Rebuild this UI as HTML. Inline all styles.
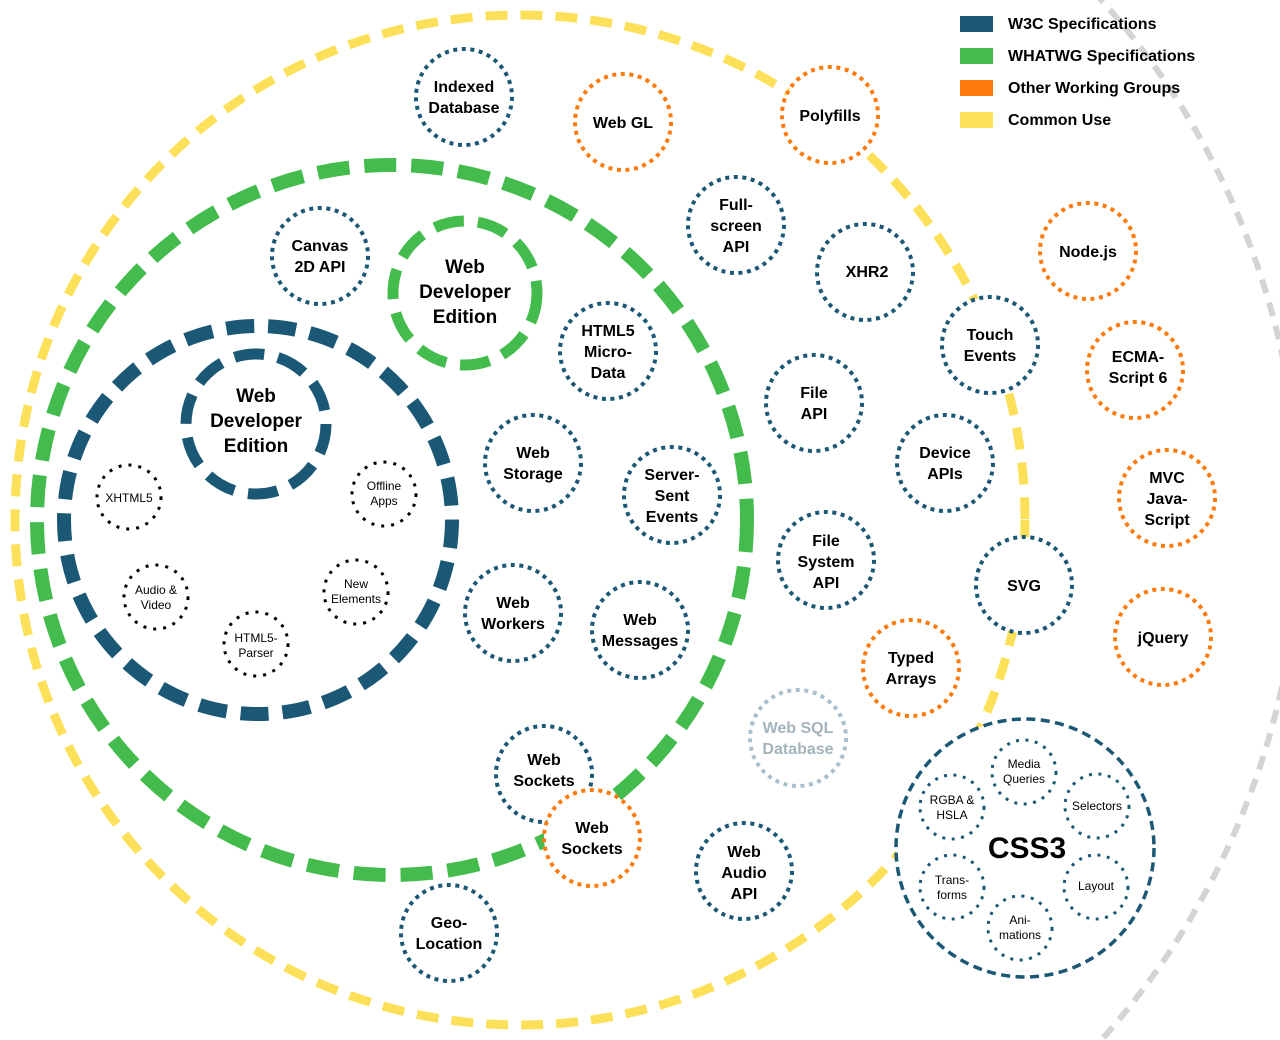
<!DOCTYPE html>
<html><head><meta charset="utf-8"><style>
html,body{margin:0;padding:0;background:#fff;width:1280px;height:1040px;overflow:hidden;}
svg{display:block;}
text{font-family:"Liberation Sans",Arial,sans-serif;text-anchor:middle;fill:#000;}
.b{font-weight:bold;font-size:16px;}
.s{font-size:12px;}
.n{fill:#fff;stroke-width:4;stroke-dasharray:4 4.6;}
.bl{stroke:#1b5876;}
.or{stroke:#fd7a0c;}
.gy{stroke:#a9c0cc;}
.k{fill:#fff;stroke:#000;stroke-width:3;stroke-dasharray:3 7;}
.c{fill:#fff;stroke:#1b5876;stroke-width:3;stroke-dasharray:3 6.5;}
</style></head><body>
<svg width="1280" height="1040" viewBox="0 0 1280 1040" xmlns="http://www.w3.org/2000/svg">
<circle cx="520" cy="520" r="780" fill="none" stroke="#d4d4d4" stroke-width="6" stroke-dasharray="14 10"/>
<circle cx="520" cy="520" r="505" fill="none" stroke="#fde05a" stroke-width="9" stroke-dasharray="22 13"/>
<circle cx="392" cy="520" r="355" fill="none" stroke="#44bc4d" stroke-width="14" stroke-dasharray="32 15"/>
<circle cx="258" cy="520" r="194" fill="none" stroke="#1b5876" stroke-width="14" stroke-dasharray="28 14"/>
<circle cx="256" cy="424" r="70" fill="none" stroke="#1b5876" stroke-width="11" stroke-dasharray="30 14"/>
<circle cx="465" cy="293" r="72" fill="none" stroke="#44bc4d" stroke-width="11" stroke-dasharray="30 14"/>
<text class="b" style="font-size:19px"><tspan x="256" y="402">Web</tspan><tspan x="256" y="427">Developer</tspan><tspan x="256" y="452">Edition</tspan></text>
<text class="b" style="font-size:19px"><tspan x="465" y="273">Web</tspan><tspan x="465" y="298">Developer</tspan><tspan x="465" y="323">Edition</tspan></text>

<rect x="960" y="16" width="33" height="16" fill="#1b5876"/>
<rect x="960" y="48" width="33" height="16" fill="#44bc4d"/>
<rect x="960" y="80" width="33" height="16" fill="#fd7a0c"/>
<rect x="960" y="112" width="33" height="16" fill="#fde05a"/>
<g class="b" style="font-size:16px">
<text x="1008" y="29" style="text-anchor:start">W3C Specifications</text>
<text x="1008" y="61" style="text-anchor:start">WHATWG Specifications</text>
<text x="1008" y="93" style="text-anchor:start">Other Working Groups</text>
<text x="1008" y="125" style="text-anchor:start">Common Use</text>
</g>

<circle class="k" cx="129" cy="497" r="32"/><text class="s" x="129" y="502">XHTML5</text>
<circle class="k" cx="384" cy="494" r="32"/><text class="s"><tspan x="384" y="490">Offline</tspan><tspan x="384" y="505">Apps</tspan></text>
<circle class="k" cx="156" cy="597" r="32"/><text class="s"><tspan x="156" y="594">Audio &amp;</tspan><tspan x="156" y="609">Video</tspan></text>
<circle class="k" cx="356" cy="592" r="32"/><text class="s"><tspan x="356" y="588">New</tspan><tspan x="356" y="603">Elements</tspan></text>
<circle class="k" cx="256" cy="644" r="32"/><text class="s"><tspan x="256" y="642">HTML5-</tspan><tspan x="256" y="657">Parser</tspan></text>

<g class="b">
<circle class="n bl" cx="464" cy="97" r="48"/><text><tspan x="464" y="92">Indexed</tspan><tspan x="464" y="113">Database</tspan></text>
<circle class="n or" cx="623" cy="122" r="48"/><text x="623" y="128">Web GL</text>
<circle class="n or" cx="830" cy="115" r="48"/><text x="830" y="121">Polyfills</text>
<circle class="n bl" cx="320" cy="256" r="48"/><text><tspan x="320" y="251">Canvas</tspan><tspan x="320" y="272">2D API</tspan></text>
<circle class="n bl" cx="736" cy="225" r="48"/><text><tspan x="736" y="210">Full-</tspan><tspan x="736" y="231">screen</tspan><tspan x="736" y="252">API</tspan></text>
<circle class="n bl" cx="865" cy="272" r="48"/><text x="867" y="277">XHR2</text>
<circle class="n or" cx="1088" cy="251" r="48"/><text x="1088" y="257">Node.js</text>
<circle class="n bl" cx="608" cy="351" r="48"/><text><tspan x="608" y="336">HTML5</tspan><tspan x="608" y="357">Micro-</tspan><tspan x="608" y="378">Data</tspan></text>
<circle class="n bl" cx="990" cy="345" r="48"/><text><tspan x="990" y="340">Touch</tspan><tspan x="990" y="361">Events</tspan></text>
<circle class="n or" cx="1135" cy="370" r="48"/><text><tspan x="1138" y="362">ECMA-</tspan><tspan x="1138" y="383">Script 6</tspan></text>
<circle class="n bl" cx="814" cy="403" r="48"/><text><tspan x="814" y="398">File</tspan><tspan x="814" y="419">API</tspan></text>
<circle class="n bl" cx="945" cy="463" r="48"/><text><tspan x="945" y="458">Device</tspan><tspan x="945" y="479">APIs</tspan></text>
<circle class="n bl" cx="533" cy="463" r="48"/><text><tspan x="533" y="458">Web</tspan><tspan x="533" y="479">Storage</tspan></text>
<circle class="n bl" cx="672" cy="495" r="48"/><text><tspan x="672" y="480">Server-</tspan><tspan x="672" y="501">Sent</tspan><tspan x="672" y="522">Events</tspan></text>
<circle class="n or" cx="1167" cy="498" r="48"/><text><tspan x="1167" y="483">MVC</tspan><tspan x="1167" y="504">Java-</tspan><tspan x="1167" y="525">Script</tspan></text>
<circle class="n bl" cx="826" cy="560" r="48"/><text><tspan x="826" y="546">File</tspan><tspan x="826" y="567">System</tspan><tspan x="826" y="588">API</tspan></text>
<circle class="n bl" cx="1024" cy="585" r="48"/><text x="1024" y="591">SVG</text>
<circle class="n bl" cx="513" cy="613" r="48"/><text><tspan x="513" y="608">Web</tspan><tspan x="513" y="629">Workers</tspan></text>
<circle class="n bl" cx="640" cy="630" r="48"/><text><tspan x="640" y="625">Web</tspan><tspan x="640" y="646">Messages</tspan></text>
<circle class="n or" cx="1163" cy="637" r="48"/><text x="1163" y="643">jQuery</text>
<circle class="n or" cx="911" cy="668" r="48"/><text><tspan x="911" y="663">Typed</tspan><tspan x="911" y="684">Arrays</tspan></text>
<circle class="n gy" cx="798" cy="738" r="48"/><text style="fill:#a3b3bc"><tspan x="798" y="733">Web SQL</tspan><tspan x="798" y="754">Database</tspan></text>
<circle class="n bl" cx="544" cy="774" r="48"/><text><tspan x="544" y="765">Web</tspan><tspan x="544" y="786">Sockets</tspan></text>
<circle class="n or" cx="592" cy="838" r="48"/><text><tspan x="592" y="833">Web</tspan><tspan x="592" y="854">Sockets</tspan></text>
<circle class="n bl" cx="744" cy="871" r="48"/><text><tspan x="744" y="857">Web</tspan><tspan x="744" y="878">Audio</tspan><tspan x="744" y="899">API</tspan></text>
<circle class="n bl" cx="449" cy="933" r="48"/><text><tspan x="449" y="928">Geo-</tspan><tspan x="449" y="949">Location</tspan></text>
</g>

<circle cx="1025" cy="848" r="129" fill="#fff" stroke="#1b5876" stroke-width="3.5" stroke-dasharray="9 5.5"/>
<circle class="c" cx="1024" cy="772" r="32"/><text class="s"><tspan x="1024" y="768">Media</tspan><tspan x="1024" y="783">Queries</tspan></text>
<circle class="c" cx="952" cy="807" r="32"/><text class="s"><tspan x="952" y="804">RGBA &amp;</tspan><tspan x="952" y="819">HSLA</tspan></text>
<circle class="c" cx="1097" cy="806" r="32"/><text class="s" x="1097" y="810">Selectors</text>
<circle class="c" cx="952" cy="887" r="32"/><text class="s"><tspan x="952" y="884">Trans-</tspan><tspan x="952" y="899">forms</tspan></text>
<circle class="c" cx="1096" cy="887" r="32"/><text class="s" x="1096" y="890">Layout</text>
<circle class="c" cx="1020" cy="928" r="32"/><text class="s"><tspan x="1020" y="924">Ani-</tspan><tspan x="1020" y="939">mations</tspan></text>
<text x="1027" y="858" style="font-weight:bold;font-size:30px">CSS3</text>
</svg>
</body></html>
